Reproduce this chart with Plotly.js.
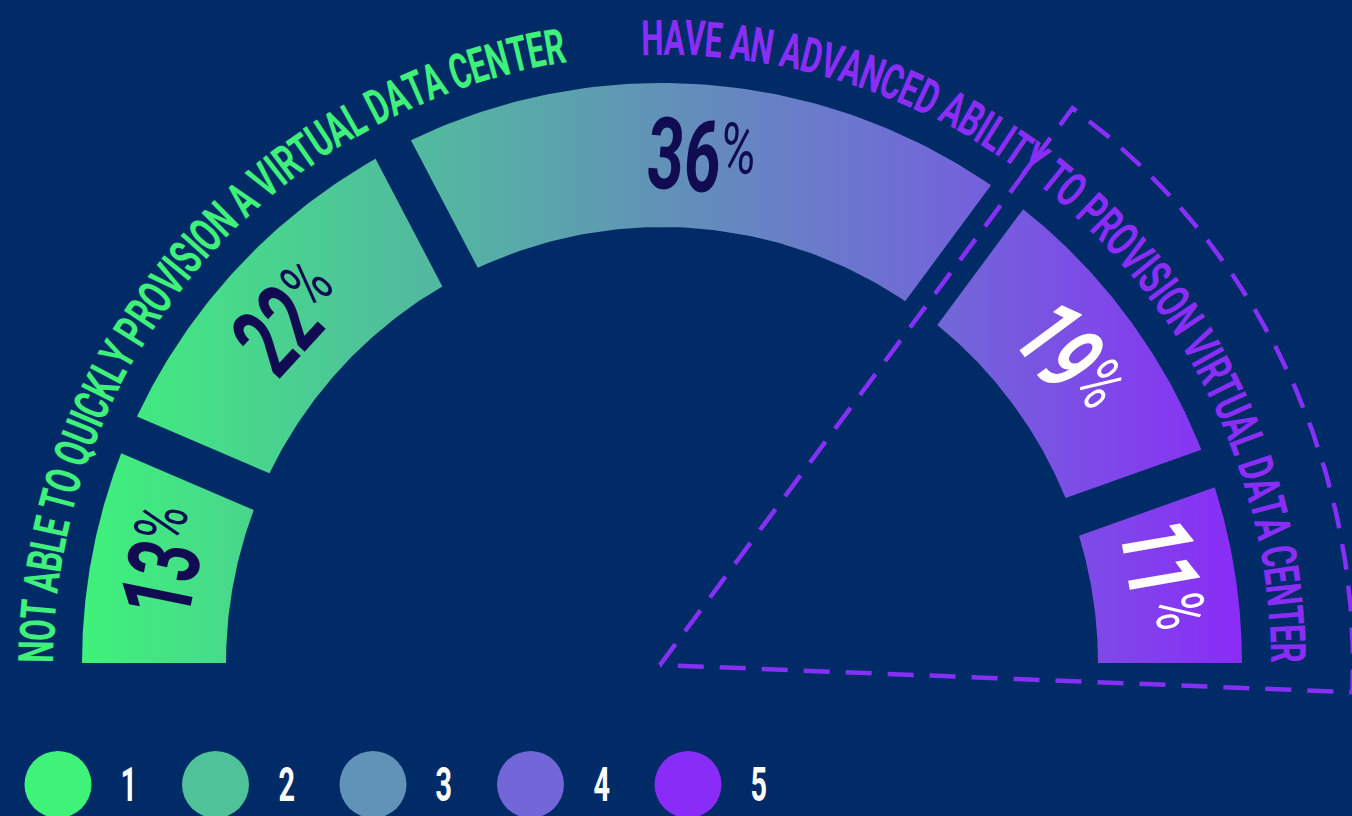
<!DOCTYPE html>
<html><head><meta charset="utf-8">
<script src="https://cdn.plot.ly/plotly-3.0.1.min.js"></script>
<style>html,body{margin:0;padding:0;background:#012b66;overflow:hidden}</style>
</head><body><div id="chart" style="width:1352px;height:816px"></div>
<script>
// ---------- data ----------
const categories = ['1', '2', '3', '4', '5'];
const values = [13, 22, 36, 19, 11];
const valueLabels = ['13', '22', '36', '19', '11'];
const segmentColors = ['#3ef27a', '#4fc29a', '#6192b8', '#7266d9', '#8a2cf7'];
const valueTextColors = ['#110c52', '#110c52', '#110c52', '#ffffff', '#ffffff'];
const leftLabel = 'NOT ABLE TO QUICKLY PROVISION A VIRTUAL DATA CENTER';
const rightLabel = 'HAVE AN ADVANCED ABILITY TO PROVISION VIRTUAL DATA CENTER';
const leftLabelColor = '#3ff07a';
const rightLabelColor = '#8a2ef7';
const dashColor = '#8630f7';
const bgColor = '#012b66';

// ---------- geometry ----------
const W = 1352, H = 816;
const CX = 662, CY = H - 663;
const R_OUT = 580, R_IN = 436, GAP = 40;
const rad = d => d * Math.PI / 180, deg = r => r * 180 / Math.PI;
const total = values.reduce((a, b) => a + b, 0);
const bounds = [180];
{ let c = 0; values.forEach(v => { c += v; bounds.push(180 - c / total * 180); }); }

function arc(cx, cy, r, a0, a1, n) {
  const xs = [], ys = [];
  for (let i = 0; i <= n; i++) {
    const a = rad(a0 + (a1 - a0) * i / n);
    xs.push(cx + r * Math.cos(a)); ys.push(cy + r * Math.sin(a));
  }
  return [xs, ys];
}

const traces = [];
const colorscale = segmentColors.map((c, i) => [i / (segmentColors.length - 1), c]);
values.forEach((v, i) => {
  const a0 = bounds[i], a1 = bounds[i + 1];
  const last = values.length - 1;
  const oO0 = i > 0 ? deg(Math.asin(GAP / 2 / R_OUT)) : 0;
  const oI0 = i > 0 ? deg(Math.asin(GAP / 2 / R_IN)) : 0;
  const oO1 = i < last ? deg(Math.asin(GAP / 2 / R_OUT)) : 0;
  const oI1 = i < last ? deg(Math.asin(GAP / 2 / R_IN)) : 0;
  const [ox, oy] = arc(CX, CY, R_OUT, a0 - oO0, a1 + oO1, 80);
  const [ix, iy] = arc(CX, CY, R_IN, a1 + oI1, a0 - oI0, 80);
  traces.push({
    type: 'scatter', mode: 'lines', x: ox.concat(ix, [ox[0]]), y: oy.concat(iy, [oy[0]]),
    fill: 'toself', line: { width: 0, color: 'rgba(0,0,0,0)' },
    fillgradient: { type: 'horizontal', colorscale: colorscale, start: CX - R_OUT, stop: CX + R_OUT },
    hoverinfo: 'skip', showlegend: false
  });
});

// dashed wedge
{
  const AX = 660, AY = H - 665, RW = 693;
  const topA = bounds[3], botA = -2.25;
  const [wx, wy] = arc(AX, AY, RW, topA, botA, 120);
  traces.push({
    type: 'scatter', mode: 'lines', x: [AX].concat(wx, [AX]), y: [AY].concat(wy, [AY]),
    line: { color: dashColor, width: 4.5, dash: '26px,16px' }, hoverinfo: 'skip', showlegend: false
  });
}

// legend
const LEG_X0 = 58, LEG_DX = 157.5, LEG_Y = H - 784.5;
traces.push({
  type: 'scatter', mode: 'markers', x: categories.map((c, i) => LEG_X0 + i * LEG_DX),
  y: categories.map(() => LEG_Y),
  marker: { size: 67, color: segmentColors, line: { width: 0 } },
  cliponaxis: false, hoverinfo: 'skip', showlegend: false
});

// ---------- annotations ----------
const canvas = document.createElement('canvas');
const ctx = canvas.getContext('2d');
const annotations = [], annScale = [];

const NUM_SIZE = 100, NUM_K = 0.64, PCT_SIZE = 70, PCT_K = 0.68, PCT_GAP = 0;
values.forEach((v, i) => {
  const mid = (bounds[i] + bounds[i + 1]) / 2;
  const r = (R_OUT + R_IN) / 2;
  const px = CX + r * Math.cos(rad(mid)), py = CY + r * Math.sin(rad(mid));
  const ang = 90 - mid;                       // clockwise text angle
  const rx = Math.cos(rad(ang)), ry = -Math.sin(rad(ang));   // text "right" dir (data coords)
  const ux = Math.sin(rad(ang)), uy = Math.cos(rad(ang));    // text "up" dir
  ctx.font = '700 ' + NUM_SIZE + 'px Roboto';
  const dW = ctx.measureText(valueLabels[i]).width * NUM_K;
  ctx.font = '400 ' + PCT_SIZE + 'px Roboto';
  const pW = ctx.measureText('%').width * PCT_K;
  const gW = dW + PCT_GAP + pW;
  const dOff = -gW / 2 + dW / 2, pOff = gW / 2 - pW / 2;
  const pUp = 0.711 * NUM_SIZE / 2 - 0.711 * PCT_SIZE / 2;
  annotations.push({
    x: px + rx * dOff, y: py + ry * dOff, text: valueLabels[i], showarrow: false, textangle: ang,
    font: { family: 'Roboto', size: NUM_SIZE, weight: 700, color: valueTextColors[i] },
    xanchor: 'center', yanchor: 'middle'
  });
  annScale.push(NUM_K);
  annotations.push({
    x: px + rx * pOff + ux * pUp, y: py + ry * pOff + uy * pUp, text: '%', showarrow: false, textangle: ang,
    font: { family: 'Roboto', size: PCT_SIZE, weight: 400, color: valueTextColors[i] },
    xanchor: 'center', yanchor: 'middle'
  });
  annScale.push(PCT_K);
});

const LBL_SIZE = 49;
function curved(text, color, startA, endA, rc) {
  ctx.font = '700 ' + LBL_SIZE + 'px Roboto';
  const ws = [...text].map(ch => ctx.measureText(ch).width);
  const nat = ws.reduce((a, b) => a + b, 0);
  const arcLen = rad(startA - endA) * rc;
  const k = arcLen / nat;
  let s = 0;
  [...text].forEach((ch, j) => {
    const w = ws[j] * k;
    const th = startA - deg((s + w / 2) / rc);
    s += w;
    if (ch === ' ') return;
    annotations.push({
      x: CX + rc * Math.cos(rad(th)), y: CY + rc * Math.sin(rad(th)),
      text: ch, showarrow: false, textangle: 90 - th,
      font: { family: 'Roboto', size: LBL_SIZE, weight: 700, color: color },
      xanchor: 'center', yanchor: 'middle'
    });
    annScale.push(k);
  });
}
curved(leftLabel, leftLabelColor, 180, 99, 625);
curved(rightLabel, rightLabelColor, 91.9, 0, 625);

categories.forEach((c, i) => {
  annotations.push({
    x: LEG_X0 + i * LEG_DX + 71, y: LEG_Y, text: c, showarrow: false,
    font: { family: 'Roboto', size: 48, weight: 700, color: '#ffffff' },
    xanchor: 'center', yanchor: 'middle'
  });
  annScale.push(0.6);
});

const layout = {
  width: W, height: H, margin: { l: 0, r: 0, t: 0, b: 0 },
  paper_bgcolor: bgColor, plot_bgcolor: bgColor,
  xaxis: { range: [0, W], visible: false, fixedrange: true },
  yaxis: { range: [0, H], visible: false, fixedrange: true },
  annotations: annotations, showlegend: false
};

Plotly.newPlot('chart', traces, layout, { staticPlot: true, displayModeBar: false }).then(() => {
  document.querySelectorAll('g.annotation').forEach(g => {
    const idx = +g.getAttribute('data-index');
    const s = annScale[idx];
    const t = g.querySelector('text.annotation-text');
    if (!t || !s) return;
    const bb = t.getBBox();
    const cx = bb.x + bb.width / 2, cy = bb.y + bb.height / 2;
    t.setAttribute('transform', `translate(${cx} ${cy}) scale(${s} 1) translate(${-cx} ${-cy})`);
  });
});
</script>
</body></html>
